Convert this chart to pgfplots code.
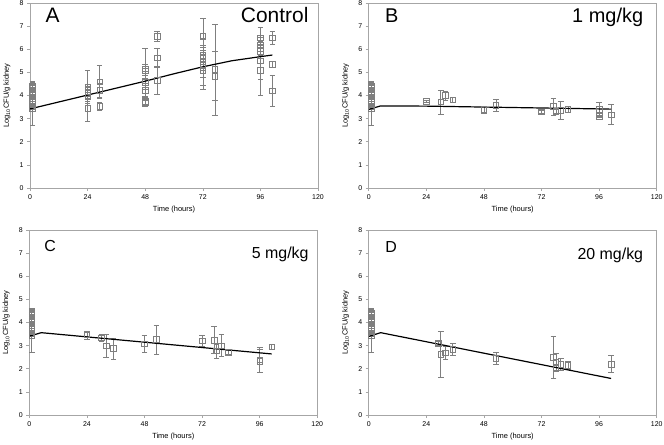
\documentclass[border=0pt]{standalone}
\usepackage{fontspec}
\setmainfont{Liberation Sans}
\usepackage{pgfplots}
\usepackage{pgfplotstable}
\pgfplotsset{compat=1.18}
\definecolor{frame}{HTML}{A6A6A6}
\definecolor{pt}{HTML}{7F7F7F}

\pgfplotstableread{
t v e
1 3.45 0.75
1 3.62 0.2
1 3.75 0.2
1 3.85 0.2
1 3.95 0.2
1 4.05 0.2
1 4.15 0.2
1 4.25 0.2
1 4.35 0.2
1 4.42 0.2
}\base

\pgfplotstableread{
t v e
24 4.38 0.7
24 4.27 0.2
24 4.16 0.2
24 4.02 0.2
24 3.95 0.2
24 3.45 0.55
29 4.6 0.72
29 4.22 0.3
29 3.53 0.17
48 5.16 0.9
48 5.06 0.3
48 4.58 0.3
48 4.22 0.3
48 3.75 0.2
48 3.69 0.15
53 6.56 0.23
53 5.63 0.4
53 4.65 0.6
72 6.55 0.8
72 5.75 0.4
72 5.6 0.5
72 5.46 1.0
72 5.3 0.5
72 5.1 0.85
77 5.12 1.98
77 4.84 1.05
96 6.5 0.45
96 6.2 0.3
96 6.05 0.3
96 5.9 0.3
96 5.5 0.8
96 5.1 1.1
101 6.5 0.28
101 5.35 0.15
101 4.2 0.66
}\dataA

\pgfplotstableread{
t v e
24 3.75 0.05
30 3.72 0.52
32 4.0 0.2
35 3.82 0.1
48 3.4 0.15
53 3.57 0.27
72 3.29 0.05
77 3.53 0.37
78 3.31 0.1
80 3.36 0.4
83 3.4 0.12
96 3.4 0.3
96 3.1 0.05
101 3.17 0.43
}\dataB

\pgfplotstableread{
t v e
24 3.46 0.18
30 3.34 0.17
32 3.0 0.5
35 2.88 0.45
48 3.08 0.38
53 3.27 0.63
72 3.21 0.25
77 3.24 0.58
78 2.77 0.3
80 3.0 0.48
83 2.71 0.1
96 2.39 0.53
96 2.33 0.5
101 2.95 0.1
}\dataC

\pgfplotstableread{
t v e
29 3.1 0.1
30 2.62 0.98
32 2.69 0.27
35 2.84 0.25
53 2.45 0.27
77 2.49 0.9
78 2.28 0.4
78 2.05 0.1
80 2.19 0.25
83 2.16 0.18
101 2.2 0.37
}\dataD

\pgfplotsset{
  panel/.style={
    scale only axis, width=288bp, height=185bp, anchor=south west,
    xmin=0, xmax=120, ymin=0, ymax=8,
    xtick={0,24,...,120}, ytick={0,1,...,8},
    axis line style={frame, line width=0.8pt},
    tick style={frame, line width=0.6pt},
    tick align=outside, major tick length=3bp,
    xtick pos=left, ytick pos=left,
    /pgf/number format/assume math mode=true,
    ticklabel style={font=\fontsize{7}{8}\selectfont},
    xlabel={Time (hours)},
    ylabel={Log\textsubscript{10}CFU/g kidney},
    label style={font=\fontsize{7.5}{9}\selectfont},
    xlabel style={at={(axis description cs:0.5,-0.119)}, anchor=center},
    ylabel style={at={(axis description cs:-0.08,0.5)}, anchor=center},
    clip=false,
  },
  dat/.style={pt, only marks, mark=square, mark size=2.8bp,
    mark options={pt, fill=none, line width=0.6pt},
    error bars/.cd, y dir=both, y explicit,
    error bar style={pt, line width=0.6pt},
    error mark options={rotate=90, pt, mark size=2.8bp, line width=0.6pt}},
  fit/.style={black, line width=1.2pt, no marks},
}

\begin{document}
\begin{tikzpicture}
\path[use as bounding box] (0,0) rectangle (664bp,445bp);

% A
\begin{axis}[panel, at={(30bp,257bp)}]
\addplot[dat] table[x=t, y=v, y error=e] {\base};
\addplot[dat] table[x=t, y=v, y error=e] {\dataA};
\addplot[fit] coordinates {(0,3.42) (12,3.72) (24,4.02) (36,4.32) (48,4.62) (60,4.94) (72,5.24) (84,5.5) (96,5.68) (101,5.75)};
\node[anchor=base west, font=\fontsize{21}{24}\selectfont] at (rel axis cs:0.042,0.892) {A};
\node[anchor=base east, font=\fontsize{21}{24}\selectfont] at (rel axis cs:0.979,0.892) {Control};
\end{axis}

% B
\begin{axis}[panel, at={(368.7bp,257bp)}]
\addplot[dat] table[x=t, y=v, y error=e] {\base};
\addplot[dat] table[x=t, y=v, y error=e] {\dataB};
\addplot[fit] coordinates {(0,3.4) (5,3.55) (24,3.54) (48,3.5) (72,3.46) (96,3.42) (101,3.41)};
\node[anchor=base west, font=\fontsize{20}{24}\selectfont] at (rel axis cs:0.045,0.892) {B};
\node[anchor=base east, font=\fontsize{20}{24}\selectfont] at (rel axis cs:0.965,0.892) {1 mg/kg};
\end{axis}

% C
\begin{axis}[panel, at={(29.3bp,30bp)}]
\addplot[dat] table[x=t, y=v, y error=e] {\base};
\addplot[dat] table[x=t, y=v, y error=e] {\dataC};
\addplot[fit] coordinates {(0,3.41) (5,3.56) (101,2.64)};
\node[anchor=base west, font=\fontsize{16}{19}\selectfont] at (rel axis cs:0.04,0.885) {C};
\node[anchor=base east, font=\fontsize{16}{19}\selectfont] at (rel axis cs:0.982,0.845) {5 mg/kg};
\end{axis}

% D
\begin{axis}[panel, at={(368.7bp,30bp)}]
\addplot[dat] table[x=t, y=v, y error=e] {\base};
\addplot[dat] table[x=t, y=v, y error=e] {\dataD};
\addplot[fit] coordinates {(0,3.4) (5,3.56) (101,1.58)};
\node[anchor=base west, font=\fontsize{16}{19}\selectfont] at (rel axis cs:0.046,0.881) {D};
\node[anchor=base east, font=\fontsize{16}{19}\selectfont] at (rel axis cs:0.965,0.842) {20 mg/kg};
\end{axis}
\end{tikzpicture}
\end{document}
